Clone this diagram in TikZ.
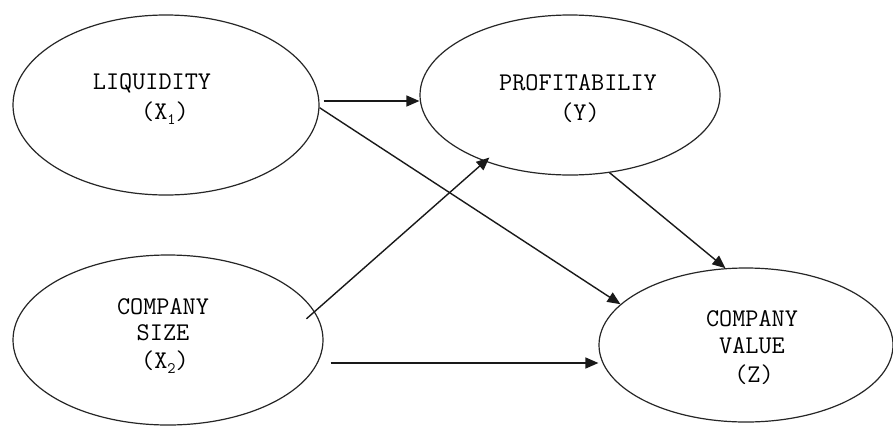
\documentclass[tikz,border=0pt]{standalone}
\usetikzlibrary{shapes.geometric,arrows.meta}
\newcommand{\subone}[1]{\raisebox{-0.22em}{\fontsize{16}{16}\selectfont #1}}
\begin{document}
\begin{tikzpicture}[x=1pt,y=-1pt,
  oval/.style={ellipse,draw=black!85,line width=1.2pt,inner sep=0pt},
  lbl/.style={inner sep=0pt,font=\ttfamily\fontsize{25.5}{28}\selectfont,text=black},
  arr/.style={line width=1.4pt,draw=black!90,-{Triangle[length=13pt,width=11pt]}}]
\useasboundingbox[fill=white] (0,0) rectangle (893,426);
% ellipses
\node[oval,minimum width=306pt,minimum height=180pt] (liq) at (166,105) {};
\node[oval,minimum width=300pt,minimum height=160pt] (prof) at (570,95) {};
\node[oval,minimum width=310pt,minimum height=170pt] (size) at (168,340) {};
\node[oval,minimum width=294pt,minimum height=154pt] (val) at (746,345) {};
% labels
\node[lbl] (liqa) at (152,83) {LIQUIDITY};
\node[lbl] (liqb) at (165,113) {(X\subone{1})};
\node[lbl] (profa) at (578,83) {PROFITABILIY};
\node[lbl] (profb) at (580,113) {(Y)};
\node[lbl] (sizea) at (163,307) {COMPANY};
\node[lbl] (sizeb) at (163,333) {SIZE};
\node[lbl] (sizec) at (165,362) {(X\subone{2})};
\node[lbl] (vala) at (752,319) {COMPANY};
\node[lbl] (valb) at (752,346) {VALUE};
\node[lbl] (valc) at (754,375) {(Z)};
% connectors
\draw[arr] ([shift={(4pt,4pt)}]liq.east) -- ([yshift=-6pt]prof.west);
\draw[arr] (liq.-1) -- (val.162);
\draw[arr,shorten <=-11pt,shorten >=-6pt] (size.11) -- (prof.218);
\draw[arr] ([shift={(7pt,-23pt)}]size.east) -- ([yshift=-18pt]val.west);
\draw[arr] (prof.297) -- (val.105);
\end{tikzpicture}
\end{document}
